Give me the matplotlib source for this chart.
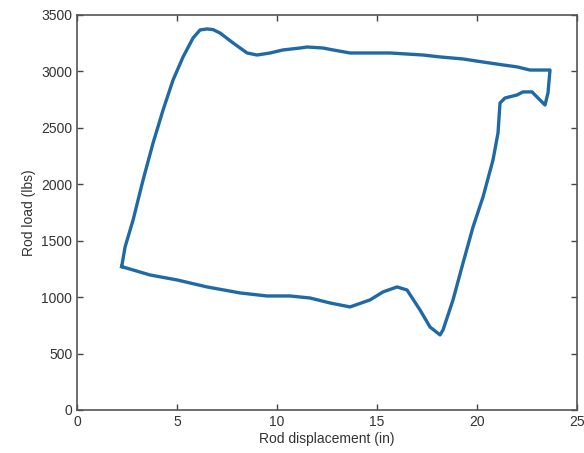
import matplotlib
matplotlib.use("Agg")
import matplotlib.pyplot as plt

displacement = [2.23, 2.4, 2.8, 3.3, 3.8, 4.3, 4.8, 5.3, 5.8, 6.15, 6.5, 6.8, 7.15, 7.8, 8.5, 9.0,
                9.65, 10.3, 11.15, 11.5, 12.3, 12.8, 13.65, 15.65, 17.3, 18.15, 19.3, 20.3,
                21.3, 22.0, 22.65, 23.65, 23.55, 23.4, 23.05, 22.75, 22.3, 22.0, 21.4, 21.15,
                21.05, 20.8, 20.3, 19.8, 19.3, 18.8, 18.3, 18.15, 17.65, 17.15, 16.5, 16.0,
                15.3, 14.65, 13.65, 12.65, 11.65, 10.65, 9.5, 8.15, 6.5, 5.0, 3.65, 2.23]
load = [1270, 1444, 1683, 2038, 2366, 2658, 2924, 3128, 3296, 3367, 3376, 3370, 3340, 3252, 3163, 3145,
        3163, 3190, 3207, 3216, 3207, 3190, 3163, 3163, 3145, 3128, 3110, 3083,
        3057, 3040, 3012, 3012, 2809, 2702, 2764, 2818, 2818, 2791, 2764, 2720,
        2454, 2215, 1887, 1621, 1302, 975, 709, 665, 735, 886, 1063, 1090,
        1046, 975, 913, 948, 992, 1010, 1010, 1037, 1090, 1152, 1196, 1270]

x_ticks = [0, 5, 10, 15, 20, 25]
y_ticks = [0, 500, 1000, 1500, 2000, 2500, 3000, 3500]

plt.rcParams['font.family'] = ['Liberation Sans', 'DejaVu Sans']
fig = plt.figure(figsize=(5.84, 4.53), dpi=100)
ax = fig.add_axes([0.132, 0.095, 0.856, 0.872])
ax.plot(displacement, load, color='#1f6aa5', linewidth=2.4, solid_joinstyle='round')
ax.set_xlim(0, 25)
ax.set_ylim(0, 3500)
ax.set_xticks(x_ticks)
ax.set_yticks(y_ticks)
ax.tick_params(direction='in', top=True, right=True, length=4, labelsize=10,
               colors='#444444', labelcolor='#333333', width=1)
for s in ax.spines.values():
    s.set_color('#555555')
    s.set_linewidth(1.2)
ax.set_xlabel('Rod displacement (in)', fontsize=10, color='#333333', labelpad=2)
ax.set_ylabel('Rod load (lbs)', fontsize=10, color='#333333', labelpad=4)
fig.savefig('out.png', dpi=100)
